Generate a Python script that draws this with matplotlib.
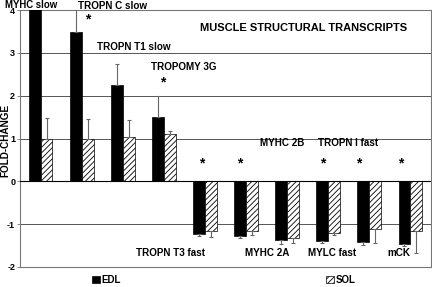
import matplotlib
matplotlib.use("Agg")
import matplotlib.pyplot as plt
import matplotlib.transforms as mtransforms
import numpy as np
from matplotlib.patches import Patch

categories = ["MYHC slow", "TROPN C slow", "TROPN T1 slow", "TROPOMY 3G",
              "TROPN T3 fast", "MYHC 2A", "MYHC 2B", "MYLC fast",
              "TROPN I fast", "mCK"]
edl = [4.6, 3.49, 2.24, 1.51, -1.22, -1.28, -1.36, -1.40, -1.42, -1.46]
edl_err = [0.5, 0.7, 0.49, 0.49, 0.05, 0.04, 0.10, 0.05, 0.06, 0.04]
sol = [1.0, 1.0, 1.03, 1.10, -1.15, -1.15, -1.32, -1.20, -1.11, -1.15]
sol_err = [0.49, 0.45, 0.40, 0.08, 0.14, 0.10, 0.11, 0.05, 0.32, 0.53]
yticks = [-2, -1, 0, 1, 2, 3, 4]

# annotation label placement (data coords)
label_pos = [(-0.22, 4.12), (1.75, 4.1), (2.27, 3.13), (3.49, 2.67),
             (3.15, -1.68), (5.52, -1.68), (5.87, 0.89), (7.09, -1.68),
             (7.49, 0.89), (8.71, -1.68)]
star_pos = [None, (1.15, 3.77), None, (2.98, 2.30), (3.93, 0.42),
            (4.85, 0.42), None, (6.87, 0.42), (7.75, 0.42), (8.77, 0.42)]

plt.rcParams['font.family'] = ['Liberation Sans', 'DejaVu Sans']
plt.rcParams['font.weight'] = 'bold'
plt.rcParams['hatch.linewidth'] = 0.6

fig = plt.figure(figsize=(4.32, 2.87), dpi=100)
ax = fig.add_axes([20/432, 1-267/287, 411/432, 257/287])

x = np.arange(len(categories))
w = 0.29
# one-sided error bars (away from zero)
edl_lo = [e if v < 0 else 0 for v, e in zip(edl, edl_err)]
edl_hi = [e if v >= 0 else 0 for v, e in zip(edl, edl_err)]
sol_lo = [e if v < 0 else 0 for v, e in zip(sol, sol_err)]
sol_hi = [e if v >= 0 else 0 for v, e in zip(sol, sol_err)]

ekw = dict(ecolor='#666666', elinewidth=0.8, capsize=1.5, capthick=0.8)
ax.bar(x - w/2, edl, w, color='black', edgecolor='black', linewidth=0.5,
       yerr=[edl_lo, edl_hi], error_kw=ekw, zorder=3)
ax.bar(x + w/2, sol, w, color='white', edgecolor='black', linewidth=0.5, hatch='//////',
       yerr=[sol_lo, sol_hi], error_kw=ekw, zorder=3)

ax.set_xlim(-0.5, len(categories) - 0.5)
ax.set_ylim(-2, 4)
ax.set_yticks(yticks)
ax.set_yticklabels([str(t) for t in yticks], fontsize=6.5, fontweight='bold')
ax.set_xticks([])
# nudge the top tick label slightly down, as in the reference
top_lbl = ax.get_yticklabels()[-1]
top_lbl.set_transform(top_lbl.get_transform() +
                      mtransforms.ScaledTranslation(0, -1.5/100, fig.dpi_scale_trans))
for t in [1, 2, 3, -1]:
    ax.axhline(t, color='#555555', linewidth=0.7, zorder=1)
ax.axhline(0, color='black', linewidth=0.8, zorder=4)
for s in ax.spines.values():
    s.set_color('#777777')
    s.set_linewidth(0.8)
ax.tick_params(axis='y', length=2, width=0.6, pad=1.5, color='#777777')

fig.text(5.5/432, 1-140/287, "FOLD-CHANGE", rotation=90, fontsize=7.2, fontweight='bold',
         ha='center', va='center')

for i, (name, (lx, ly)) in enumerate(zip(categories, label_pos)):
    ax.text(lx, ly, name, fontsize=6.9 if i == 0 else 7.1, fontweight='bold',
            ha='center', va='center', clip_on=False, zorder=5)
for sp in star_pos:
    if sp is not None:
        ax.text(sp[0], sp[1], "*", fontsize=10, fontweight='bold', ha='center', va='center', zorder=5)

ax.text(6.41, 3.58, "MUSCLE STRUCTURAL TRANSCRIPTS", fontsize=8, fontweight='bold',
        ha='center', va='center', zorder=5)

h1 = Patch(facecolor='black', edgecolor='black', linewidth=0.5)
h2 = Patch(facecolor='white', edgecolor='black', linewidth=0.5, hatch='//////')
fig.legend([h1], ["EDL"], loc='center left', bbox_to_anchor=(92/432, 1-280/287),
           frameon=False, fontsize=7, handlelength=0.8, handleheight=0.8, handletextpad=0.2,
           borderpad=0, borderaxespad=0)
fig.legend([h2], ["SOL"], loc='center left', bbox_to_anchor=(326/432, 1-280/287),
           frameon=False, fontsize=7, handlelength=0.8, handleheight=0.8, handletextpad=0.2,
           borderpad=0, borderaxespad=0)

fig.savefig("out.png", dpi=100)
